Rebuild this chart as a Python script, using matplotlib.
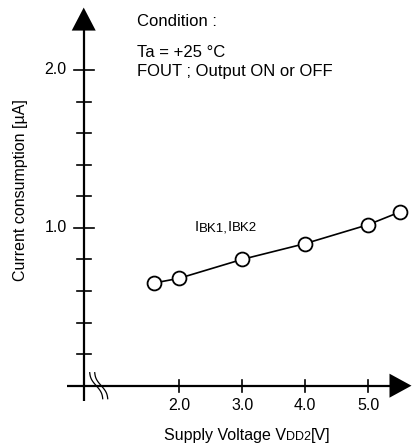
import numpy as np
import matplotlib
matplotlib.use("Agg")
import matplotlib.pyplot as plt
from matplotlib.patches import Polygon

plt.rcParams['font.family'] = ['Liberation Sans', 'DejaVu Sans']

# Data
vdd = [1.6, 2.0, 3.0, 4.0, 5.0, 5.5]
current = [0.65, 0.68, 0.80, 0.90, 1.02, 1.10]
xticks = [2.0, 3.0, 4.0, 5.0]
xtick_labels = ["2.0", "3.0", "4.0", "5.0"]
ymajor = [1.0, 2.0]
ymajor_labels = ["1.0", "2.0"]
yminor = [0.2, 0.4, 0.6, 0.8, 1.2, 1.4, 1.6, 1.8]

W, H = 412, 446
fig = plt.figure(figsize=(W / 100, H / 100), dpi=100)
ax = fig.add_axes([0, 0, 1, 1])
ax.set_xlim(-0.837, 5.693)
ax.set_ylim(-0.382, 2.443)
ax.axis('off')

px_x = (5.693 + 0.837) / W   # data per pixel in x
px_y = (2.443 + 0.382) / H   # data per pixel in y

x0 = 0.49   # y-axis position (after the axis break)
lw_axis = 1.6
fs = 11.5
fs_tick = 11.5

# y axis line
ax.plot([x0, x0], [-0.1, 2.25], color='black', lw=lw_axis, solid_capstyle='butt')
# y arrow head
tip_y = 2.395
hw = 12 * px_x
hh = 23 * px_y
ax.add_patch(Polygon([[x0, tip_y], [x0 - hw, tip_y - hh], [x0 + hw, tip_y - hh]],
                     closed=True, color='black', lw=0))
# x axis line
ax.plot([x0 - 17 * px_x, 5.5], [0, 0], color='black', lw=lw_axis, solid_capstyle='butt')
tip_x = 5.685
ax.add_patch(Polygon([[tip_x, 0], [tip_x - 22 * px_x, 12 * px_y], [tip_x - 22 * px_x, -12 * px_y]],
                     closed=True, color='black', lw=0))

# y ticks
for v in yminor:
    ax.plot([x0 - 7 * px_x, x0 + 7 * px_x], [v, v], color='black', lw=1.2)
for v, lab in zip(ymajor, ymajor_labels):
    ax.plot([x0 - 10 * px_x, x0 + 10 * px_x], [v, v], color='black', lw=1.2)
    ax.text(x0 - 17 * px_x, v, lab, ha='right', va='center', fontsize=fs_tick)

# x ticks
for v, lab in zip(xticks, xtick_labels):
    ax.plot([v, v], [-6 * px_y, 6 * px_y], color='black', lw=1.2)
    ax.text(v, -20 * px_y, lab, ha='center', va='center', fontsize=fs_tick)

# axis break marks (S-shaped wavy lines)
t = np.linspace(0, 1, 60)
for dx in (0, 5):
    xs = x0 + (6 + dx) * px_x + (13 * px_x) * (t - 0.12 * np.sin(2 * np.pi * t))
    ys = 13 * px_y - 26 * px_y * t
    ax.plot(xs, ys, color='black', lw=0.9)

# data
ax.plot(vdd, current, color='black', lw=1.2, marker='o', markersize=10,
        markerfacecolor='white', markeredgecolor='black', markeredgewidth=1.3, zorder=5)

# labels
fig.text(21 / W, 1 - 190 / H, "Current consumption [\u00b5A]", rotation=90,
         ha='center', va='center', fontsize=fs)

def compound(x_px, y_px, parts):
    """Draw text parts (text, size) sequentially in figure pixels."""
    renderer = fig.canvas.get_renderer()
    x = x_px
    for s, size in parts:
        tt = fig.text(x / W, 1 - y_px / H, s, fontsize=size, ha='left', va='baseline')
        bb = tt.get_window_extent(renderer=renderer)
        x += bb.width

compound(164, 440, [("Supply Voltage V", fs), ("DD2", 9), ("[V]", fs)])
compound(195, 231, [("I", 10.5), ("BK1,", 9.5), ("I", 10.5), ("BK2", 9.5)])

fig.text(137 / W, 1 - 26 / H, "Condition :", fontsize=12, ha='left', va='baseline')
fig.text(137 / W, 1 - 57 / H, "Ta = +25 \u00b0C", fontsize=12, ha='left', va='baseline')
fig.text(137 / W, 1 - 76 / H, "FOUT ; Output ON or OFF", fontsize=12, ha='left', va='baseline')

fig.savefig("out.png", dpi=100)
